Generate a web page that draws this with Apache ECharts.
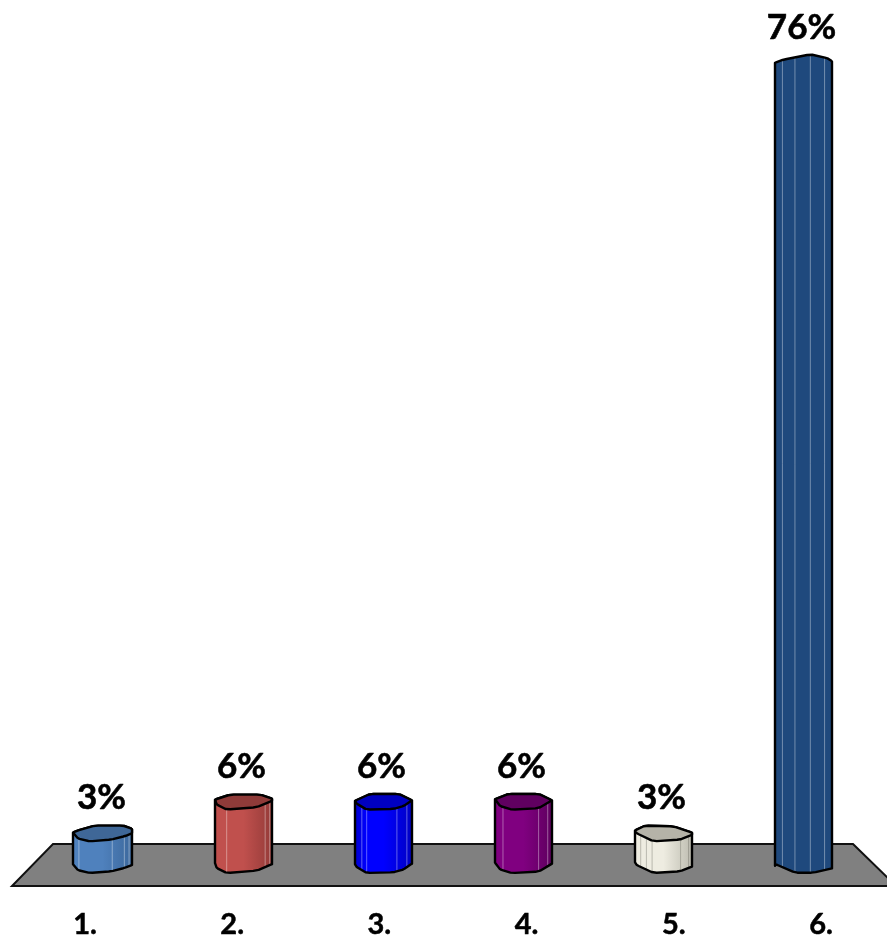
<!DOCTYPE html>
<html>
<head>
<meta charset="utf-8">
<style>html,body{margin:0;padding:0;background:#fff}#c{width:887px;height:939px}</style>
<script src="https://cdn.jsdelivr.net/npm/echarts@6/dist/echarts.min.js"></script>
</head>
<body>
<div id="c"></div>
<script>
const categories = ['1.', '2.', '3.', '4.', '5.', '6.'];
const values = [3, 6, 6, 6, 3, 76];
const bodyLeft = ['#4f81bd', '#c0504d', '#0000ff', '#800080', '#eeece1', '#1f497d'];
const bodyRight = ['#3c689c', '#953b39', '#0000c4', '#5f005f', '#bdbcb0', '#1f497d'];
const lidColors = ['#3f6797', '#8f3b39', '#0000c0', '#600060', '#b5b3a8', '#1f497d'];
const outlines = [
  [[-1,-.1],[-.77,-.43],[-.26,-.96],[.7,-.96],[1,-.57],[1,0],[.76,.35],[.3,.78],[-.43,1],[-.83,.65]],
  [[-1,-.25],[-.47,-.87],[.59,-.87],[1,-.37],[1,-.1],[.47,.7],[-.59,1],[-.94,.37]],
  [[-1,-.1],[-.47,-.96],[.53,-.96],[1,-.17],[.7,.56],[.35,.91],[-.59,1],[-.94,.26]],
  [[-1,-.3],[-.53,-.96],[.53,-.96],[1,-.17],[.53,.83],[-.41,1],[-.82,.56]],
  [[-1,-.35],[-.65,-.96],[.35,-.87],[1,-.09],[1,.2],[.59,.78],[-.35,1],[-.94,0]],
  [[-1,.1],[-.7,-.3],[.24,-.96],[.82,-.5],[1,-.1],[1,.43],[.35,.96],[-.29,.96],[-1,-.13]]
];
const facets = [
  [-.8,.33,.74,.9],
  [-.59,.76,.92],
  [-.76,-.59,.47,.82],
  [-.72,.53,.85],
  [-.8,-.6,-.4,.6,.88],
  [-.74,-.3,.24,.74]
];

const halfWidth = 28.5, halfDepth = 8;

function chaikin(pts, closed) {
  const out = [];
  const n = pts.length;
  if (!closed) out.push(pts[0]);
  for (let i = 0; i < (closed ? n : n - 1); i++) {
    const a = pts[i], b = pts[(i + 1) % n];
    out.push([a[0] * .88 + b[0] * .12, a[1] * .88 + b[1] * .12]);
    out.push([a[0] * .12 + b[0] * .88, a[1] * .12 + b[1] * .88]);
  }
  if (!closed) out.push(pts[n - 1]);
  return out;
}

function yOnChain(chain, x) {
  for (let i = 0; i < chain.length - 1; i++) {
    const a = chain[i], b = chain[i + 1];
    const lo = Math.min(a[0], b[0]), hi = Math.max(a[0], b[0]);
    if (x >= lo && x <= hi && hi > lo) return a[1] + (b[1] - a[1]) * (x - a[0]) / (b[0] - a[0]);
  }
  return chain[chain.length - 1][1];
}

function renderBar(params, api) {
  const i = api.value(0);
  const top = api.coord([i, api.value(1)]);
  const base = api.coord([i, 0]);
  const hw = i === 0 ? halfWidth + 1 : halfWidth;
  const cx = i === 0 ? top[0] - 1 : top[0];
  const hasLid = i !== 5;
  const raw = outlines[i];
  let rightIdx = 0;
  raw.forEach((p, k) => { if (p[0] >= raw[rightIdx][0]) rightIdx = k; });
  const map = (p, cy) => [cx + p[0] * hw, cy + p[1] * halfDepth];
  const back = raw.slice(0, rightIdx + 1);
  const front = raw.slice(rightIdx).concat([raw[0]]);
  const backTop = chaikin(back.map(p => map(p, top[1])), false);
  const frontBase = chaikin(front.map(p => map(p, base[1])), false);
  const frontTop = chaikin(front.map(p => map(p, top[1])), false);
  const body = backTop.concat(frontBase);
  const children = [{
    type: 'polygon',
    shape: { points: body },
    style: {
      fill: new echarts.graphic.LinearGradient(0, 0, 1, 0, [
        { offset: 0, color: i === 2 ? '#0000d0' : bodyLeft[i] },
        { offset: .2, color: bodyLeft[i] },
        { offset: .5, color: bodyLeft[i] },
        { offset: 1, color: bodyRight[i] }
      ])
    }
  }];
  facets[i].forEach(u => {
    const x = cx + u * hw;
    const y1 = hasLid ? yOnChain(frontTop, x) : yOnChain(backTop, x);
    const y2 = yOnChain(frontBase, x);
    children.push({
      type: 'line',
      shape: { x1: x, y1: y1, x2: x, y2: y2 },
      style: { stroke: i === 4 ? 'rgba(90,90,80,0.35)' : 'rgba(255,255,255,0.38)', lineWidth: 1 }
    });
  });
  children.push({
    type: 'polygon',
    shape: { points: body },
    style: { fill: 'none', stroke: '#000', lineWidth: 2.4, lineJoin: 'round' }
  });
  if (hasLid) {
    children.push({
      type: 'polygon',
      shape: { points: chaikin(raw.map(p => map(p, top[1])), true) },
      style: { fill: lidColors[i], stroke: '#000', lineWidth: 2.4, lineJoin: 'round' }
    });
  }
  const minY = Math.min.apply(null, backTop.map(p => p[1]));
  children.push({
    type: 'text',
    style: {
      text: values[i] + '%',
      x: top[0] - 2,
      y: minY - 10,
      align: 'center',
      verticalAlign: 'bottom',
      font: 'bold 35px Lato',
      fill: '#000',
      stroke: '#000',
      lineWidth: 0.6
    }
  });
  return { type: 'group', children: children };
}

const chart = echarts.init(document.getElementById('c'), null, { renderer: 'canvas' });
chart.setOption({
  animation: false,
  backgroundColor: '#fff',
  graphic: [{
    type: 'polygon',
    z: 0,
    shape: { points: [[12, 886], [896, 886], [853, 844], [53, 844]] },
    style: { fill: '#808080', stroke: '#111', lineWidth: 2 }
  }],
  grid: [
    { left: 33.5, width: 840, top: 62, height: 803 },
    { left: 85, width: 736, top: 62, height: 803 }
  ],
  xAxis: [
    { type: 'category', gridIndex: 0, data: categories, show: false },
    {
      type: 'category', gridIndex: 1, data: categories, boundaryGap: false,
      axisLine: { show: false }, axisTick: { show: false },
      axisLabel: { interval: 0, margin: 53, fontFamily: 'Lato', fontWeight: 'bold', fontSize: 29, color: '#000', textBorderColor: '#000', textBorderWidth: 0.5 }
    }
  ],
  yAxis: [
    { type: 'value', gridIndex: 0, min: 0, max: 76, show: false },
    { type: 'value', gridIndex: 1, min: 0, max: 76, show: false }
  ],
  series: [{
    type: 'custom',
    xAxisIndex: 0,
    yAxisIndex: 0,
    renderItem: renderBar,
    encode: { x: 0, y: 1 },
    data: values.map((v, i) => [i, v])
  }]
});
</script>
</body>
</html>
